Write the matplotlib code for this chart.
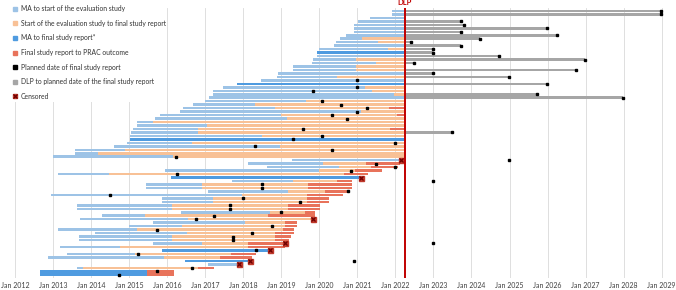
import numpy as np
import matplotlib.pyplot as plt
from matplotlib.lines import Line2D

plt.rcParams['font.family'] = ['Lato', 'DejaVu Sans']

nan = np.nan
dlp = 2022.25   # data lock point

# one entry per study, top row first (decimal years)
ma_start = [2021.92, 2021.92, 2021.34, 2021.02, 2020.92, 2020.92, 2020.90, 2020.70, 2020.54, 2020.44,
            2020.38, 2020.00, 2019.93, 2019.93, 2019.83, 2019.80, 2019.31, 2019.31, 2018.92, 2018.88,
            2018.47, 2017.84, 2017.46, 2017.20, 2017.20, 2017.09, 2016.99, 2016.69, 2016.42, 2016.34,
            2015.81, 2015.68, 2015.20, 2015.20, 2015.09, 2015.04, 2015.02, 2015.02, 2014.95, 2014.60,
            2013.58, 2013.58, 2013.01, 2019.29, 2018.13, 2018.62, 2015.94, 2013.13, 2016.10, 2017.70,
            2015.44, 2015.44, 2017.08, 2012.94, 2015.87, 2015.87, 2013.62, 2013.62, 2016.36, 2014.28,
            2013.71, 2015.64, 2015.00, 2013.12, 2014.11, 2013.67, 2013.67, 2015.63, 2013.18, 2015.86,
            2013.36, 2012.87, 2016.48, 2017.08, 2013.62, 2012.66, 2012.66]

study_start = [nan, nan, nan, nan, nan, nan, nan, nan, 2021.13, 2021.53,
               nan, 2021.80, nan, nan, 2020.96, 2021.48, 2020.96, 2020.96, nan, 2020.47,
               nan, nan, 2021.20, 2021.38, 2021.97, nan, 2019.65, 2018.31, 2018.83, 2021.10,
               2019.00, 2019.14, 2015.64, 2017.04, 2016.82, 2016.80, 2018.49, nan, 2016.64, 2018.97,
               2014.89, 2014.19, 2016.16, nan, 2020.10, 2020.53, 2020.00, 2014.47, nan, 2019.32,
               2016.91, 2016.91, 2019.18, 2017.96, 2017.21, 2017.21, 2016.12, 2016.12, 2018.70, 2015.42,
               2016.56, 2018.05, 2016.38, 2015.20, 2016.51, 2016.12, 2016.12, 2016.91, 2014.76, nan,
               2015.15, 2015.91, nan, nan, 2013.80, nan, nan]

final_report = [nan, nan, nan, nan, nan, nan, nan, nan, nan, nan,
                nan, nan, nan, nan, nan, nan, nan, nan, nan, nan,
                nan, nan, nan, nan, nan, nan, nan, nan, 2021.84, nan,
                2022.05, nan, nan, nan, 2021.86, nan, nan, nan, nan, nan,
                nan, nan, nan, nan, 2021.23, 2021.36, 2020.94, 2020.65, nan, 2020.46,
                2019.70, 2019.70, 2020.16, 2019.68, 2019.68, 2019.68, 2019.18, 2019.18, 2019.62, 2018.66,
                nan, 2019.10, 2019.10, 2019.05, 2018.83, 2018.83, 2018.83, 2018.13, 2018.13, nan,
                2017.68, 2017.38, nan, nan, 2016.81, 2015.48, 2015.48]

prac_outcome = [nan] * 44 + [2022.13, 2022.07, 2021.64, 2021.29, nan, 2020.86,
                2020.85, 2020.85, 2020.77, 2020.63, 2020.25, 2020.25, 2020.02, 2020.02, 2019.89, 2019.89,
                nan, 2019.41, 2019.42, 2019.33, 2019.33, 2019.25, 2019.21, nan, 2019.10, nan,
                2018.34, 2018.24, nan, nan, 2017.22, 2016.18, 2016.18]

planned_report = [2028.97, 2028.97, nan, 2023.72, 2023.81, 2025.98, 2023.72, 2026.24, 2024.23, 2022.40,
                  2023.72, 2022.98, 2022.98, 2024.73, 2026.98, 2022.49, nan, 2026.74, 2022.98, 2024.99,
                  2020.99, 2025.98, 2020.99, 2019.83, 2025.72, 2027.97, 2020.08, 2020.57, 2021.25, 2020.98,
                  2020.33, 2020.74, nan, nan, 2019.57, 2023.48, 2020.08, 2019.32, 2021.99, 2018.32,
                  2020.33, nan, 2016.24, 2024.98, 2021.49, 2022.00, 2020.82, 2016.25, nan, 2022.99,
                  2018.49, 2018.49, 2020.75, 2014.50, 2017.99, 2019.49, 2017.65, 2017.65, 2018.99, 2017.24,
                  2016.75, nan, 2018.75, 2015.74, 2018.24, 2017.74, 2017.74, 2022.99, nan, 2018.33,
                  2015.24, nan, 2020.91, nan, 2016.66, 2015.74, 2014.74]

censored_at = [nan] * 43 + [2022.14, nan, nan, nan, nan, 2021.10, nan,
               nan, nan, nan, nan, nan, nan, nan, nan, nan, nan,
               2019.84, nan, nan, nan, nan, nan, nan, 2019.10, nan, 2018.70,
               nan, nan, 2018.18, 2017.88, nan, nan, nan]

# rows where the start of the evaluation study is unknown (MA to final report)
ma_to_report_rows = [12, 21, 37, 48, 69, 72, 75, 76]

years = list(range(2012, 2030))
tick_labels = ['Jan %d' % y for y in years]

c_light = '#9DC3E6'
c_orange = '#F8C196'
c_blue = '#4F9BE0'
c_red = '#E8735B'
c_gray = '#A6A6A6'
c_dlp = '#C00000'

ma = np.array(ma_start)
study = np.array(study_start)
report = np.array(final_report)
prac = np.array(prac_outcome)
planned = np.array(planned_report)
cens_at = np.array(censored_at)
rows = np.arange(len(ma))

dark = np.isin(rows, ma_to_report_rows)
done = ~np.isnan(prac)
cens = ~np.isnan(cens_at)
end = np.where(done, prac, np.where(cens, cens_at, dlp))

fig = plt.figure(figsize=(6.76, 2.9), dpi=100)
ax = fig.add_axes([15 / 676, 11.8 / 290, 650.5 / 676, 270.7 / 290])
h = 0.74

# MA to start of study (or to the end of the bar when no study started yet)
lb = ~dark
lb_end = np.where(np.isnan(study), end, study)
ax.barh(rows[lb], (lb_end - ma)[lb], left=ma[lb], height=h, color=c_light, lw=0)

db_end = np.where(np.isnan(report), end, report)
ax.barh(rows[dark], (db_end - ma)[dark], left=ma[dark], height=h, color=c_blue, lw=0)

st = ~np.isnan(study)
or_end = np.where(np.isnan(report), end, report)
ax.barh(rows[st], (or_end - study)[st], left=study[st], height=h, color=c_orange, lw=0)

rp = ~np.isnan(report)
ax.barh(rows[rp], (end - report)[rp], left=report[rp], height=h, color=c_red, lw=0)

ongoing = ~done & ~cens & (np.nan_to_num(planned) > dlp)
ax.barh(rows[ongoing], planned[ongoing] - dlp, left=dlp, height=h, color=c_gray, lw=0)

ax.plot(planned, rows, 's', color='black', ms=2.0, ls='none', zorder=4)
ax.plot(cens_at[cens], rows[cens], 's', color='#C0392B', ms=3.6, ls='none', zorder=5)
ax.plot(cens_at[cens], rows[cens], 'x', color='#6E0000', ms=3.4, mew=0.9, ls='none', zorder=6)

ax.axvline(dlp, color=c_dlp, lw=1.4, zorder=7)
ax.text(dlp, -1.3, 'DLP', color=c_dlp, fontsize=5.5, fontweight='bold',
        ha='center', va='bottom', clip_on=False)

ax.set_xlim(2012, 2029.1)
ax.set_ylim(77, -1)
ax.set_xticks(years)
ax.set_xticklabels(tick_labels, fontsize=5.0, color='#404040')
ax.tick_params(axis='x', length=0, pad=3)
ax.set_yticks([])
ax.grid(axis='x', color='#D9D9D9', lw=0.6)
ax.set_axisbelow(True)
for s in ax.spines.values():
    s.set_visible(False)

handles = [
    Line2D([], [], marker='s', ls='none', color=c_light, ms=3),
    Line2D([], [], marker='s', ls='none', color=c_orange, ms=3),
    Line2D([], [], marker='s', ls='none', color=c_blue, ms=3),
    Line2D([], [], marker='s', ls='none', color=c_red, ms=3),
    Line2D([], [], marker='s', ls='none', color='black', ms=3),
    Line2D([], [], marker='s', ls='none', color=c_gray, ms=3),
    (Line2D([], [], marker='s', ls='none', color='#C0392B', ms=3.4),
     Line2D([], [], marker='x', ls='none', color='#6E0000', ms=3.2, mew=0.9)),
]
labels = ['MA to start of the evaluation study',
          'Start of the evaluation study to final study report',
          'MA to final study report*',
          'Final study report to PRAC outcome',
          'Planned date of final study report',
          'DLP to planned date of the final study report',
          'Censored']
leg = fig.legend(handles, labels, loc='upper left', bbox_to_anchor=(8 / 676, 1.0),
                 fontsize=4.9, frameon=True, facecolor='white', edgecolor='none', framealpha=1,
                 handlelength=0.6, handletextpad=0.5, labelspacing=1.12, borderpad=0.25)
leg.set_zorder(10)
for t in leg.get_texts():
    t.set_color('#333333')

fig.savefig('out.png', dpi=100)
